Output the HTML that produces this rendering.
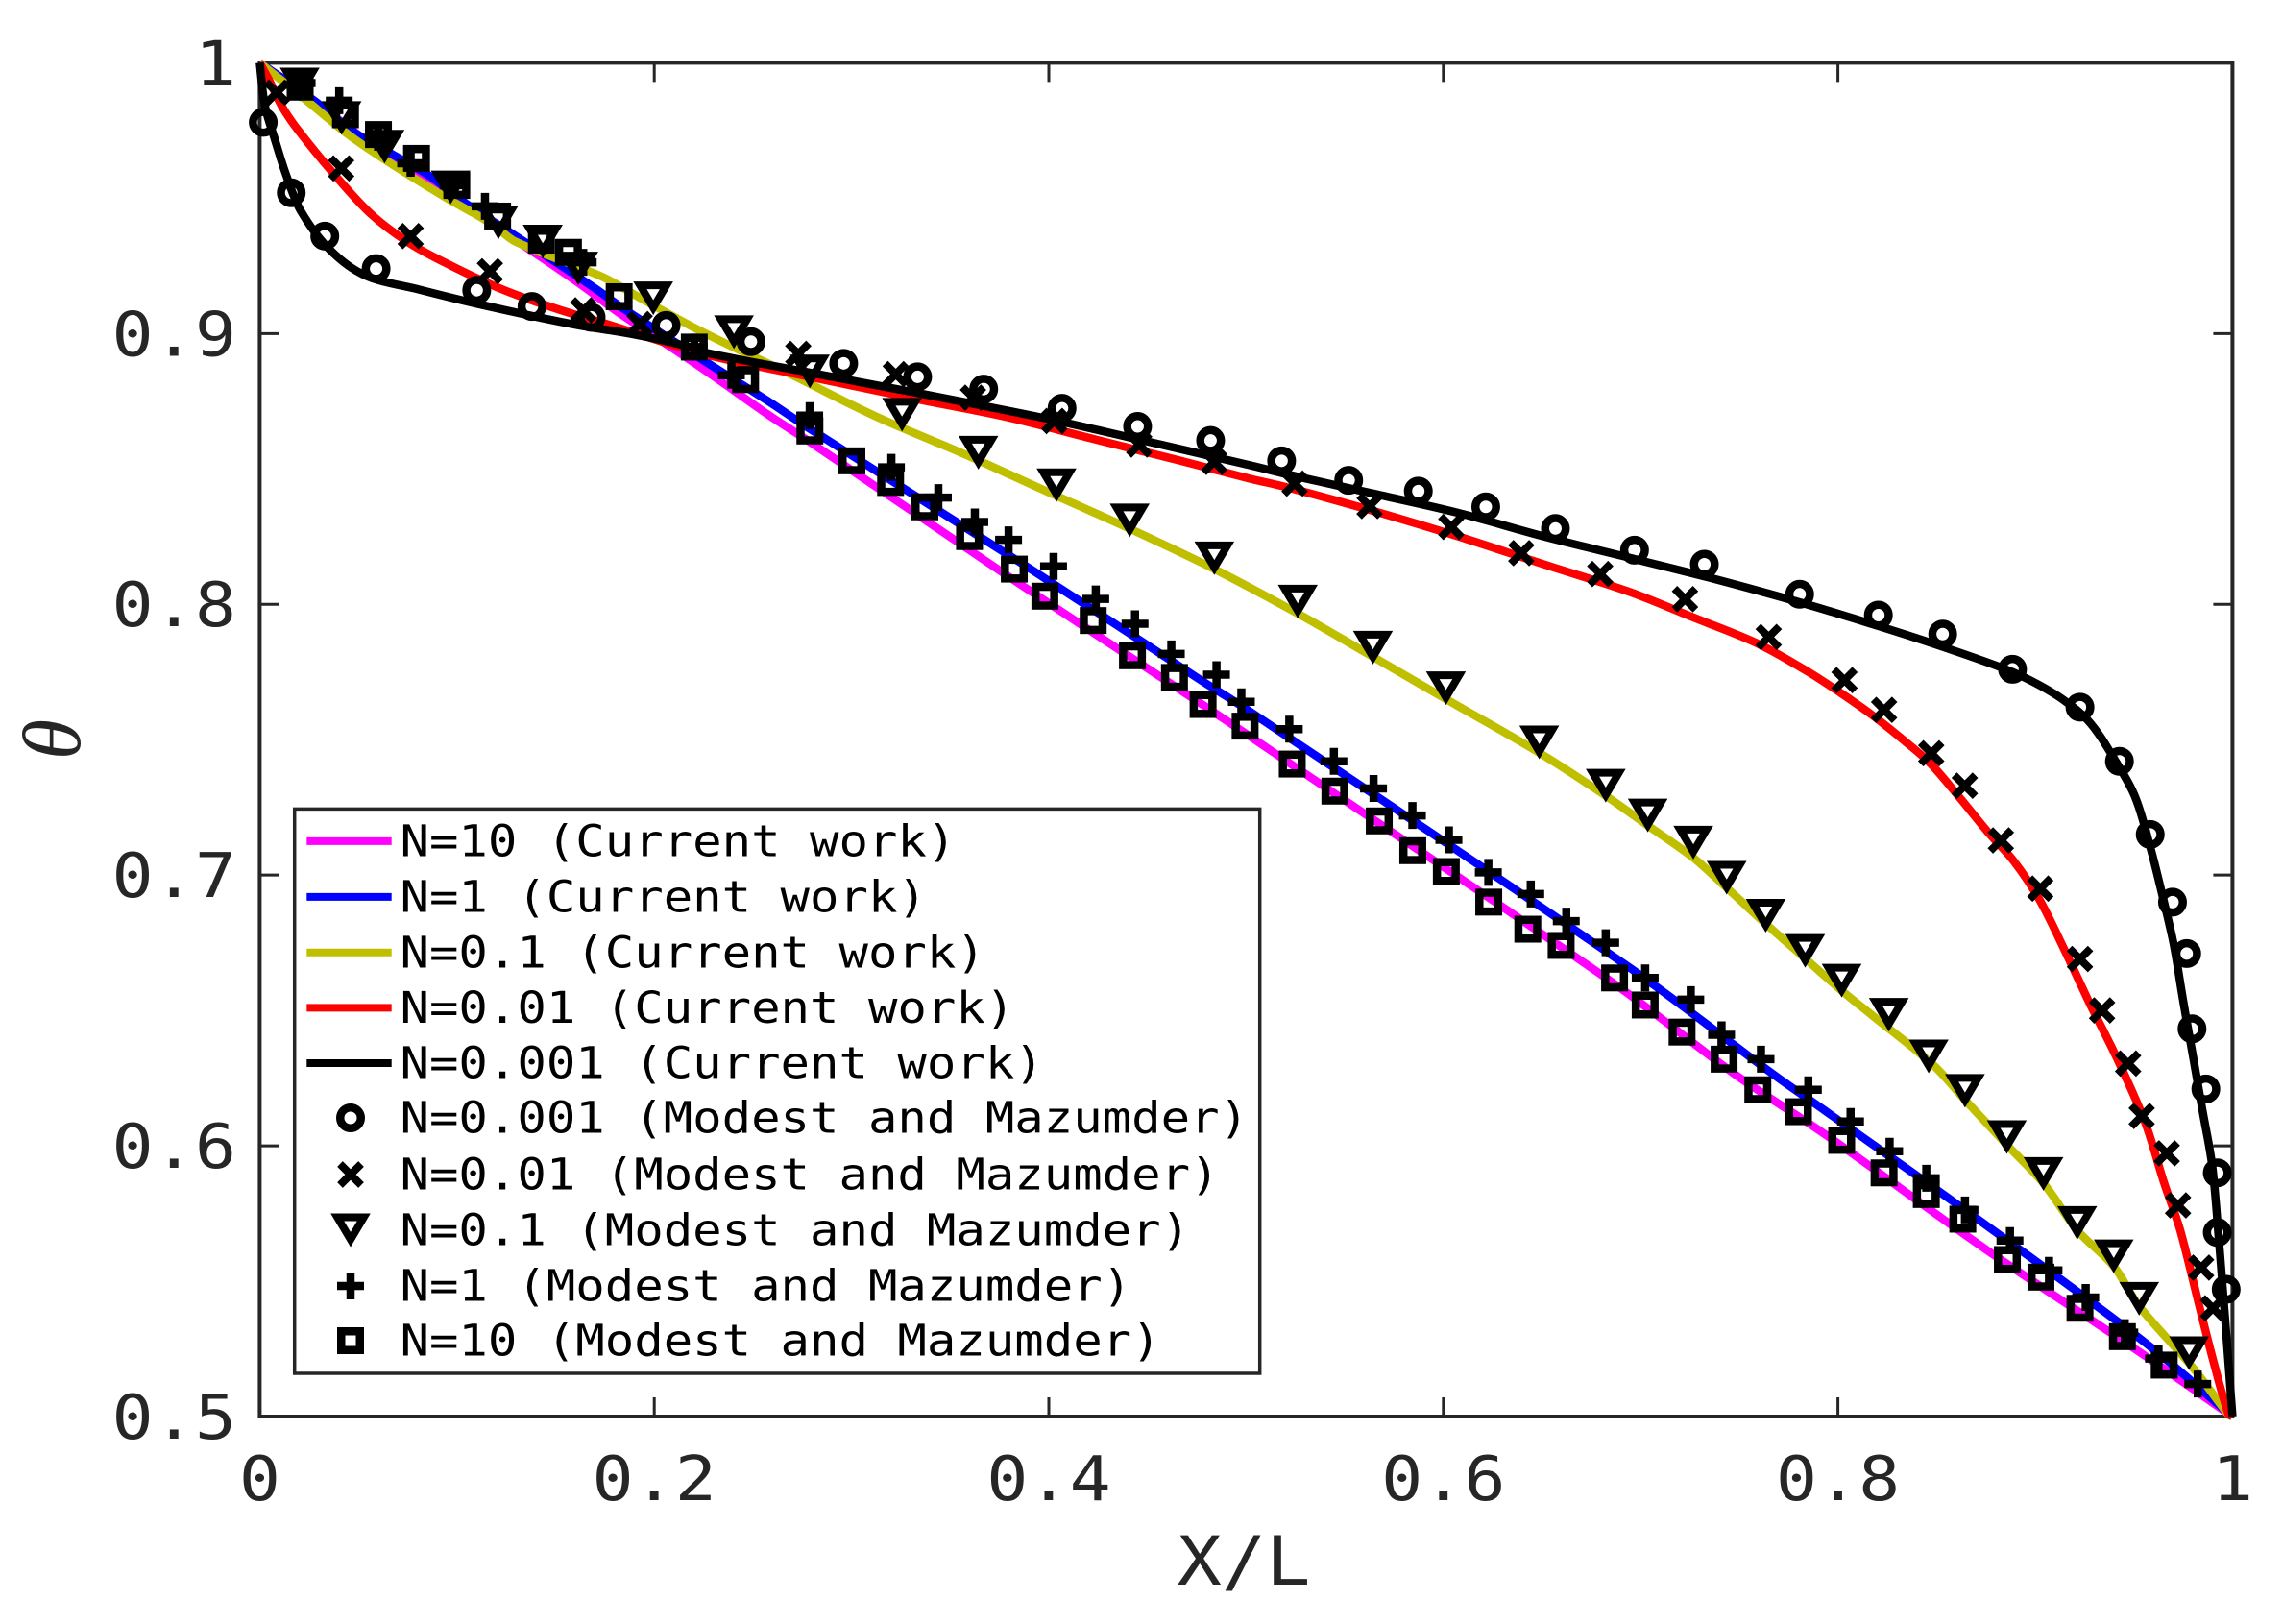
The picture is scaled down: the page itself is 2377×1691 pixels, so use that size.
<!DOCTYPE html>
<html lang="en">
<head>
<meta charset="utf-8">
<title>Theta versus X/L</title>
<style>
html,body{margin:0;padding:0;background:#fff;}
svg{display:block;}
text{font-family:"DejaVu Sans Mono","Liberation Mono",monospace;}
</style>
</head>
<body>
<svg id="chart" xmlns="http://www.w3.org/2000/svg" width="2377" height="1691" viewBox="0 0 2377 1691">
  <rect x="0" y="0" width="2377" height="1691" fill="#fff"/>
  <rect x="270.4" y="65.4" width="2054" height="1409.6" fill="#fff" stroke="#262626" stroke-width="4"/>
  <g id="ticks"></g>
  <g id="tick-labels"></g>
  <g id="lines"></g>
  <g id="markers"></g>

  <text transform="translate(1295,1650) scale(1.1,1)" text-anchor="middle" font-size="70" fill="#262626">X/L</text>
  <text transform="translate(83,770) rotate(-90)" text-anchor="middle" font-size="86" font-style="italic" fill="#262626" style="font-family:'Liberation Serif',serif">θ</text>

  <g>
    <rect x="306.7" y="842.4" width="1005" height="587.6" fill="#fff" stroke="#262626" stroke-width="3.5"/>
    <line x1="319.3" x2="407.7" y1="875.9" y2="875.9" stroke="#ff00ff" stroke-width="8"/>
    <line x1="319.3" x2="407.7" y1="933.9" y2="933.9" stroke="#0000ff" stroke-width="8"/>
    <line x1="319.3" x2="407.7" y1="991.8" y2="991.8" stroke="#bfbf00" stroke-width="8"/>
    <line x1="319.3" x2="407.7" y1="1049.4" y2="1049.4" stroke="#ff0000" stroke-width="8"/>
    <line x1="319.3" x2="407.7" y1="1107" y2="1107" stroke="#000" stroke-width="8"/>
    <circle cx="365" cy="1164" r="10.75" fill="none" stroke="#000" stroke-width="8.5"/>
    <path d="M354 1212 L376 1234 M376 1212 L354 1234" fill="none" stroke="#000" stroke-width="8"/>
    <polygon points="351.25,1267.5 378.75,1267.5 365,1290.66" fill="none" stroke="#000" stroke-width="8" stroke-miterlimit="10"/>
    <path d="M351 1339 L379 1339 M365 1325 L365 1353" fill="none" stroke="#000" stroke-width="8.5"/>
    <rect x="355.25" y="1386.25" width="19.5" height="19.5" fill="none" stroke="#000" stroke-width="8.5"/>
    <g font-size="45" fill="#000">
      <text transform="translate(416.5,891.4) scale(1.125,1)">N=10 (Current work)</text>
      <text transform="translate(416.5,949.4) scale(1.125,1)">N=1 (Current work)</text>
      <text transform="translate(416.5,1007.3) scale(1.125,1)">N=0.1 (Current work)</text>
      <text transform="translate(416.5,1064.9) scale(1.125,1)">N=0.01 (Current work)</text>
      <text transform="translate(416.5,1122.5) scale(1.125,1)">N=0.001 (Current work)</text>
      <text transform="translate(416.5,1179.5) scale(1.125,1)">N=0.001 (Modest and Mazumder)</text>
      <text transform="translate(416.5,1238.4) scale(1.125,1)">N=0.01 (Modest and Mazumder)</text>
      <text transform="translate(416.5,1296.5) scale(1.125,1)">N=0.1 (Modest and Mazumder)</text>
      <text transform="translate(416.5,1354.5) scale(1.125,1)">N=1 (Modest and Mazumder)</text>
      <text transform="translate(416.5,1411.5) scale(1.125,1)">N=10 (Modest and Mazumder)</text>
    </g>
  </g>
</svg>
<script>
var xTickValues = [0, 0.2, 0.4, 0.6, 0.8, 1];
var xTickLabels = ["0", "0.2", "0.4", "0.6", "0.8", "1"];
var yTickValues = [0.5, 0.6, 0.7, 0.8, 0.9, 1];
var yTickLabels = ["0.5", "0.6", "0.7", "0.8", "0.9", "1"];

var lineN10X = [0,.02,.04,.06,.085,.105,.1443,.1653,.1816,.2156,.2335,.2578,.2778,.3822,.477,.4995,.6856,.7486,.7934,.8745,.9556,1];
var lineN10Y = [1,.990,.979,.968,.9565,.9465,.9274,.9168,.9079,.8915,.8825,.87,.8605,.809,.7634,.7524,.6604,.626,.6043,.562,.5225,.5];
var lineN1X = [0,.0277,.0472,.0667,.0861,.1056,.1256,.1686,.1848,.2286,.2578,.2778,.3908,.477,.5013,.694,.768,.7934,.8745,.9556,1];
var lineN1Y = [1,.986,.9747,.9664,.9582,.9475,.938,.9174,.909,.8884,.875,.8653,.813,.772,.7607,.666,.626,.613,.571,.5274,.5];
var lineN01X = [0,.0222,.0449,.066,.0949,.1177,.1296,.1735,.193,.2173,.2335,.269,.3126,.3561,.3995,.4429,.4834,.5262,.5639,.6013,.6486,.6823,.7036,.7267,.7436,.7634,.7834,.8019,.8177,.8485,.8644,.8856,.9042,.9213,.9398,.9527,.98,.998,1];
var lineN01Y = [1,.987,.9735,.963,.950,.9405,.934,.921,.9131,.9033,.8973,.885,.8693,.8558,.8415,.8273,.8132,.7966,.7808,.765,.7452,.7293,.7183,.7064,.6953,.682,.6692,.6573,.648,.6297,.617,.6004,.5862,.5688,.5555,.5408,.518,.5007,.5];
var lineN001X = [0,.0047,.0112,.0193,.0371,.0566,.0761,.0972,.1232,.1507,.18,.2257,.2822,.3343,.3778,.4213,.4648,.5013,.5203,.5639,.6074,.6508,.6943,.7269,.7593,.7853,.8015,.8177,.8338,.8469,.8615,.8761,.8892,.9021,.9151,.9281,.941,.9556,.9654,.9735,.9832,.9897,.9979,1];
var lineN001Y = [1,.9937,.984,.9753,.9594,.944,.9333,.925,.9162,.9091,.9026,.8923,.8835,.8756,.8693,.8613,.8534,.8465,.8433,.8346,.8251,.8148,.8046,.7951,.7855,.7749,.7672,.7589,.7495,.7412,.7288,.7158,.7051,.691,.672,.6519,.633,.6089,.5862,.5688,.5408,.5222,.501,.5];
var lineN0001X = [0,.0027,.0079,.0136,.0209,.0355,.0534,.081,.1037,.1329,.1605,.1897,.2156,.2257,.2822,.3343,.3995,.4429,.5013,.5203,.5639,.6074,.6508,.6943,.7377,.7812,.8177,.8502,.8826,.8989,.9151,.9281,.941,.9507,.9581,.9646,.9702,.9751,.98,.9848,.9897,.993,.9962,.9987,1];
var lineN0001Y = [1,.984,.9712,.9582,.9452,.931,.9215,.9162,.9121,.9073,.9032,.8997,.8955,.893,.8851,.8779,.8685,.8613,.8515,.8481,.841,.8338,.8251,.8172,.8093,.8006,.7926,.785,.7767,.7714,.7643,.756,.7418,.7288,.711,.6921,.6744,.6531,.633,.613,.5929,.5662,.5368,.5128,.5];

var circleX = [.0018,.016,.033,.059,.110,.138,.168,.206,.249,.296,.3335,.367,.4067,.445,.482,.518,.552,.5873,.6215,.6568,.6969,.7323,.7806,.8205,.8531,.8885,.9227,.9427,.9583,.9696,.9768,.9795,.9865,.9923,.9923,.9968];
var circleY = [.978,.952,.936,.924,.916,.910,.906,.903,.897,.889,.884,.8795,.8724,.8657,.8605,.853,.8458,.8418,.836,.828,.82,.8148,.8037,.796,.789,.776,.762,.742,.715,.690,.671,.6432,.621,.590,.568,.547];

var crossX = [.0087,.0413,.0765,.1167,.164,.1926,.273,.3224,.3616,.4028,.4458,.4838,.5246,.5626,.604,.6395,.6795,.7225,.7649,.8033,.8234,.8473,.8643,.8826,.9026,.9227,.9339,.9471,.954,.9667,.9724,.9841,.9901];
var crossY = [.989,.961,.936,.923,.9086,.9035,.8925,.885,.8763,.8677,.859,.8526,.8446,.8363,.8286,.8189,.8112,.8019,.7879,.772,.761,.745,.733,.7128,.695,.669,.650,.6304,.611,.5972,.578,.555,.540];

var triangleX = [.0203,.0415,.0633,.0968,.121,.1435,.1615,.1995,.2404,.2789,.3256,.3643,.4039,.441,.4839,.5262,.5643,.6013,.6486,.6823,.7036,.7267,.7436,.7634,.7834,.8019,.8258,.846,.8644,.8856,.9042,.9213,.9398,.9527,.978];
var triangleY = [.992,.9796,.969,.954,.941,.934,.924,.913,.9005,.886,.870,.856,.844,.831,.817,.801,.784,.769,.749,.733,.722,.712,.699,.685,.672,.661,.6484,.633,.6203,.6032,.5896,.5715,.5592,.5435,.5234];

var plusX = [.0215,.0403,.060,.0765,.098,.1142,.164,.2203,.2391,.2788,.3202,.344,.3625,.3796,.4024,.4238,.4437,.4621,.485,.4976,.5219,.5445,.5646,.5843,.6028,.6228,.6443,.6623,.6823,.7023,.7254,.741,.761,.785,.8064,.8262,.8448,.8644,.8872,.907,.9256,.9454,.9625,.9824];
var plusY = [.9925,.986,.9725,.9629,.9548,.947,.9263,.895,.8846,.8697,.8506,.8394,.8304,.8238,.814,.802,.7928,.7817,.774,.764,.7539,.742,.732,.722,.713,.701,.693,.683,.675,.662,.654,.641,.632,.6207,.609,.598,.588,.5763,.565,.554,.544,.531,.5214,.512];

var squareX = [.0205,.0435,.0602,.0795,.0999,.1206,.1428,.1565,.1822,.2203,.2463,.2789,.3002,.3198,.3372,.3598,.3825,.398,.4225,.4424,.4637,.4782,.4995,.5234,.545,.5675,.5845,.6015,.623,.6428,.6597,.6868,.7023,.721,.7423,.7594,.78,.8019,.8234,.8448,.8633,.8859,.9029,.9227,.9442,.9654];
var squareY = [.991,.9808,.9735,.9647,.9547,.9434,.9345,.930,.9136,.895,.883,.864,.853,.845,.836,.825,.813,.803,.794,.781,.773,.763,.755,.741,.731,.72,.709,.7013,.690,.680,.674,.662,.652,.642,.632,.6207,.6126,.602,.590,.582,.5729,.558,.5515,.540,.5295,.519];

var NS = 'http://www.w3.org/2000/svg';
var plotLeft = 270.4, plotRight = 2324.4, plotTop = 65.4, plotBottom = 1475;
function sx(v){ return plotLeft + (v - 0) / (1 - 0) * (plotRight - plotLeft); }
function sy(v){ return plotBottom - (v - 0.5) / (1 - 0.5) * (plotBottom - plotTop); }
function make(tag, parent){
  var el = document.createElementNS(NS, tag);
  parent.appendChild(el);
  return el;
}

var tickGroup = document.getElementById('ticks');
var labelGroup = document.getElementById('tick-labels');
function tickPath(el, d){
  el.setAttribute('d', d);
  el.setAttribute('stroke', '#262626');
  el.setAttribute('stroke-width', '3');
  el.setAttribute('fill', 'none');
}
xTickValues.forEach(function(v, i){
  var x = sx(v);
  if (i > 0 && i < xTickValues.length - 1) {
    var t = make('path', tickGroup);
    
    
    tickPath(t, 'M' + x + ' ' + plotBottom + 'v-20M' + x + ' ' + plotTop + 'v20');
  }
  var l = make('text', labelGroup);
  
  
  l.setAttribute('transform', 'translate(' + x + ',1562) scale(1.12,1)');
  l.setAttribute('text-anchor', 'middle');
  l.setAttribute('font-size', '64');
  l.setAttribute('fill', '#262626');
  l.textContent = xTickLabels[i];
});
yTickValues.forEach(function(v, i){
  var y = sy(v);
  if (i > 0 && i < yTickValues.length - 1) {
    var t = make('path', tickGroup);
    
    
    tickPath(t, 'M' + plotLeft + ' ' + y + 'h20M' + plotRight + ' ' + y + 'h-20');
  }
  var l = make('text', labelGroup);
  
  
  l.setAttribute('transform', 'translate(246,' + (y + 23) + ') scale(1.12,1)');
  l.setAttribute('text-anchor', 'end');
  l.setAttribute('font-size', '64');
  l.setAttribute('fill', '#262626');
  l.textContent = yTickLabels[i];
});

var lineGroup = document.getElementById('lines');
function drawLine(xs, ys, color, name){
  var px = xs.map(sx), py = ys.map(sy), n = px.length;
  var d = 'M' + px[0].toFixed(1) + ' ' + py[0].toFixed(1);
  function seg(a, b){ return Math.max(Math.hypot(px[b] - px[a], py[b] - py[a]), 0.01); }
  for (var i = 0; i < n - 1; i++) {
    var p = Math.max(i - 1, 0), q = Math.min(i + 2, n - 1), len = seg(i, i + 1);
    var s1 = len / (seg(p, i) + len) / 3, s2 = len / (len + seg(i + 1, q)) / 3;
    var c1x = px[i] + (px[i + 1] - px[p]) * s1, c1y = py[i] + (py[i + 1] - py[p]) * s1;
    var c2x = px[i + 1] - (px[q] - px[i]) * s2, c2y = py[i + 1] - (py[q] - py[i]) * s2;
    d += 'C' + c1x.toFixed(1) + ' ' + c1y.toFixed(1) + ' ' + c2x.toFixed(1) + ' ' + c2y.toFixed(1) + ' ' + px[i + 1].toFixed(1) + ' ' + py[i + 1].toFixed(1);
  }
  var path = make('path', lineGroup);
  
  
  path.setAttribute('d', d);
  path.setAttribute('fill', 'none');
  path.setAttribute('stroke', color);
  path.setAttribute('stroke-width', '8.5');
  path.setAttribute('stroke-linejoin', 'round');
}
drawLine(lineN10X, lineN10Y, '#ff00ff', 'line-n10');
drawLine(lineN1X, lineN1Y, '#0000ff', 'line-n1');
drawLine(lineN01X, lineN01Y, '#bfbf00', 'line-n0-1');
drawLine(lineN001X, lineN001Y, '#ff0000', 'line-n0-01');
drawLine(lineN0001X, lineN0001Y, '#000000', 'line-n0-001');

var markerGroup = document.getElementById('markers');
function markerStyle(el, w){
  el.setAttribute('fill', 'none');
  el.setAttribute('stroke', '#000');
  el.setAttribute('stroke-width', w);
}
circleX.forEach(function(v, i){
  var m = make('circle', markerGroup);
  
  
  m.setAttribute('cx', sx(v));
  m.setAttribute('cy', sy(circleY[i]));
  m.setAttribute('r', '10.75');
  markerStyle(m, '8.5');
});
crossX.forEach(function(v, i){
  var x = sx(v), y = sy(crossY[i]);
  var m = make('path', markerGroup);
  
  
  m.setAttribute('d', 'M' + (x - 11) + ' ' + (y - 11) + 'l22 22M' + (x + 11) + ' ' + (y - 11) + 'l-22 22');
  markerStyle(m, '8');
});
triangleX.forEach(function(v, i){
  var x = sx(v), y = sy(triangleY[i]);
  var m = make('polygon', markerGroup);
  
  
  m.setAttribute('points', (x - 13.75) + ',' + (y - 13.5) + ' ' + (x + 13.75) + ',' + (y - 13.5) + ' ' + x + ',' + (y + 9.66));
  m.setAttribute('stroke-miterlimit', '10');
  markerStyle(m, '8');
});
plusX.forEach(function(v, i){
  var x = sx(v), y = sy(plusY[i]);
  var m = make('path', markerGroup);
  
  
  m.setAttribute('d', 'M' + (x - 14) + ' ' + y + 'h28M' + x + ' ' + (y - 14) + 'v28');
  markerStyle(m, '8.5');
});
squareX.forEach(function(v, i){
  var x = sx(v), y = sy(squareY[i]);
  var m = make('rect', markerGroup);
  
  
  m.setAttribute('x', x - 9.75);
  m.setAttribute('y', y - 9.75);
  m.setAttribute('width', '19.5');
  m.setAttribute('height', '19.5');
  markerStyle(m, '8.5');
});
</script>
</body>
</html>
